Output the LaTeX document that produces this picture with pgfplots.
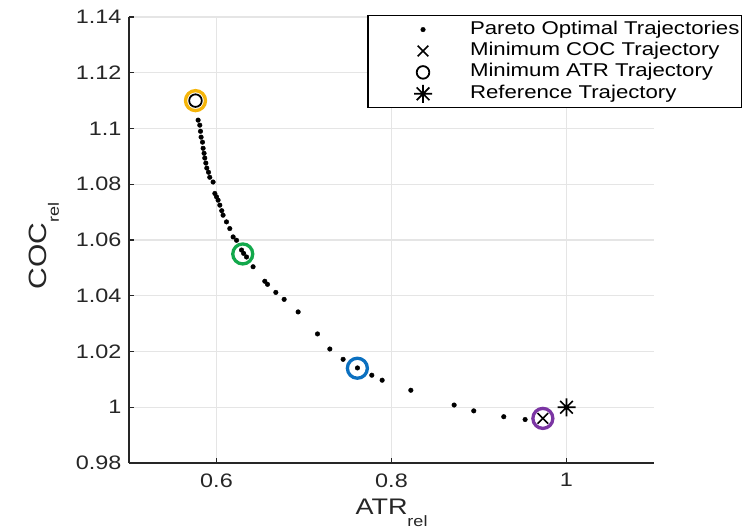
\documentclass[border=0pt]{standalone}
\usepackage{fontspec}
\setmainfont{Liberation Sans}[FakeStretch=1.2]
\usepackage{pgfplots}
\pgfplotsset{compat=1.18}
\definecolor{ringorange}{HTML}{F5B50A}
\definecolor{ringgreen}{HTML}{12A84B}
\definecolor{ringblue}{HTML}{0B70C0}
\definecolor{ringpurple}{HTML}{7B35A3}
\definecolor{axgray}{HTML}{262626}
\pgfdeclareplotmark{ast8}{%
  \pgfpathmoveto{\pgfqpoint{0pt}{\pgfplotmarksize}}\pgfpathlineto{\pgfqpoint{0pt}{-\pgfplotmarksize}}%
  \pgfpathmoveto{\pgfqpoint{\pgfplotmarksize}{0pt}}\pgfpathlineto{\pgfqpoint{-\pgfplotmarksize}{0pt}}%
  \pgfpathmoveto{\pgfqpoint{0.707\pgfplotmarksize}{0.707\pgfplotmarksize}}\pgfpathlineto{\pgfqpoint{-0.707\pgfplotmarksize}{-0.707\pgfplotmarksize}}%
  \pgfpathmoveto{\pgfqpoint{0.707\pgfplotmarksize}{-0.707\pgfplotmarksize}}\pgfpathlineto{\pgfqpoint{-0.707\pgfplotmarksize}{0.707\pgfplotmarksize}}%
  \pgfusepathqstroke}
\pgfplotsset{mylegend/.style={legend image code/.code={\path[draw=none,fill=none] (0pt,-5pt) rectangle (100pt,5pt); \draw[##1] plot coordinates {(55pt,0pt)};}}}
\pgfplotstableread{
x y
0.5790 1.1030
0.5809 1.1012
0.5817 1.0990
0.5824 1.0969
0.5840 1.0951
0.5847 1.0929
0.5858 1.0911
0.5866 1.0894
0.5878 1.0876
0.5889 1.0858
0.5909 1.0843
0.5923 1.0825
0.5961 1.0808
0.5981 1.0767
0.6000 1.0755
0.6018 1.0743
0.6038 1.0725
0.6060 1.0705
0.6075 1.0689
0.6114 1.0665
0.6152 1.0641
0.6190 1.0611
0.6229 1.0599
0.6286 1.0564
0.6310 1.0552
0.6343 1.0539
0.6418 1.0504
0.6552 1.0452
0.6583 1.0441
0.6678 1.0412
0.6773 1.0387
0.6933 1.0342
0.7154 1.0263
0.7295 1.0209
0.7447 1.0172
0.7611 1.0141
0.7775 1.0115
0.7893 1.0097
0.8221 1.0061
0.8716 1.0008
0.8940 0.9987
0.9283 0.9966
0.9527 0.9956
}\pareto
\begin{document}
\begin{tikzpicture}
\useasboundingbox (-129pt,-67pt) rectangle (620pt,463pt);
\begin{axis}[
  at={(0pt,0pt)}, anchor=south west,
  scale only axis, width=525pt, height=446pt,
  xmin=0.5, xmax=1.1, ymin=0.98, ymax=1.14,
  axis x line=bottom, axis y line=left,
  axis line style={-, line width=1.5pt, color=axgray},
  tick align=inside, major tick length=5pt,
  tick style={line width=1.3pt, color=axgray},
  xtick={0.6,0.8,1}, xticklabels={0.6,0.8,1},
  ytick={0.98,1,1.02,1.04,1.06,1.08,1.1,1.12,1.14},
  yticklabels={0.98,1,1.02,1.04,1.06,1.08,1.1,1.12,1.14},
  /pgf/number format/assume math mode=true,
  grid=major, major grid style={line width=1.3pt, color=black!10},
  yticklabel style={font=\fontsize{19.5}{20}\selectfont, text=axgray, xshift=-4pt},
  xticklabel style={font=\fontsize{19.5}{20}\selectfont, text=axgray, yshift=-7pt},
  xlabel={ATR\raisebox{-12pt}{\fontsize{15}{15}\selectfont rel}},
  xlabel style={font=\fontsize{22.5}{24}\selectfont, text=axgray, at={([yshift=-51pt]axis description cs:0.5,0)}, anchor=base},
  ylabel={COC\raisebox{-12pt}{\fontsize{15}{15}\selectfont rel}},
  ylabel style={font=\fontsize{25}{26}\selectfont, text=axgray, at={([xshift=-82pt,yshift=-6pt]axis description cs:0,0.5)}, anchor=base},
  legend cell align=left,
  legend style={at={(1.1676,1.0045)}, anchor=north east, draw=black, line width=1.2pt,
    inner xsep=0pt, inner ysep=3.3pt, font=\fontsize{18.5}{21}\selectfont,
    nodes={inner xsep=2pt, inner ysep=2.1pt, text height=13.2pt, text depth=4pt}},
]
\addplot[only marks, mark=*, mark size=2.3pt, color=black, line width=0.4pt, mylegend] table {\pareto};
\addlegendentry{Pareto Optimal Trajectories}
\addplot[only marks, mark=x, mark size=7.5pt, line width=1.6pt, color=black, mylegend] coordinates {(0.973,0.996)};
\addlegendentry{Minimum COC Trajectory}
\addplot[only marks, mark=o, mark size=6.3pt, line width=1.8pt, color=black, mylegend] coordinates {(0.576,1.110)};
\addlegendentry{Minimum ATR Trajectory}
\addplot[only marks, mark=ast8, mark size=9pt, line width=1.7pt, color=black, mylegend] coordinates {(1.0,1.0)};
\addlegendentry{Reference Trajectory}
\addplot[forget plot, only marks, mark=o, mark size=10pt, line width=3.3pt, color=ringorange] coordinates {(0.576,1.110)};
\addplot[forget plot, only marks, mark=o, mark size=10pt, line width=3.3pt, color=ringgreen] coordinates {(0.630,1.055)};
\addplot[forget plot, only marks, mark=o, mark size=10pt, line width=3.3pt, color=ringblue] coordinates {(0.761,1.014)};
\addplot[forget plot, only marks, mark=o, mark size=10pt, line width=3.3pt, color=ringpurple] coordinates {(0.973,0.996)};
\end{axis}
\end{tikzpicture}
\end{document}
